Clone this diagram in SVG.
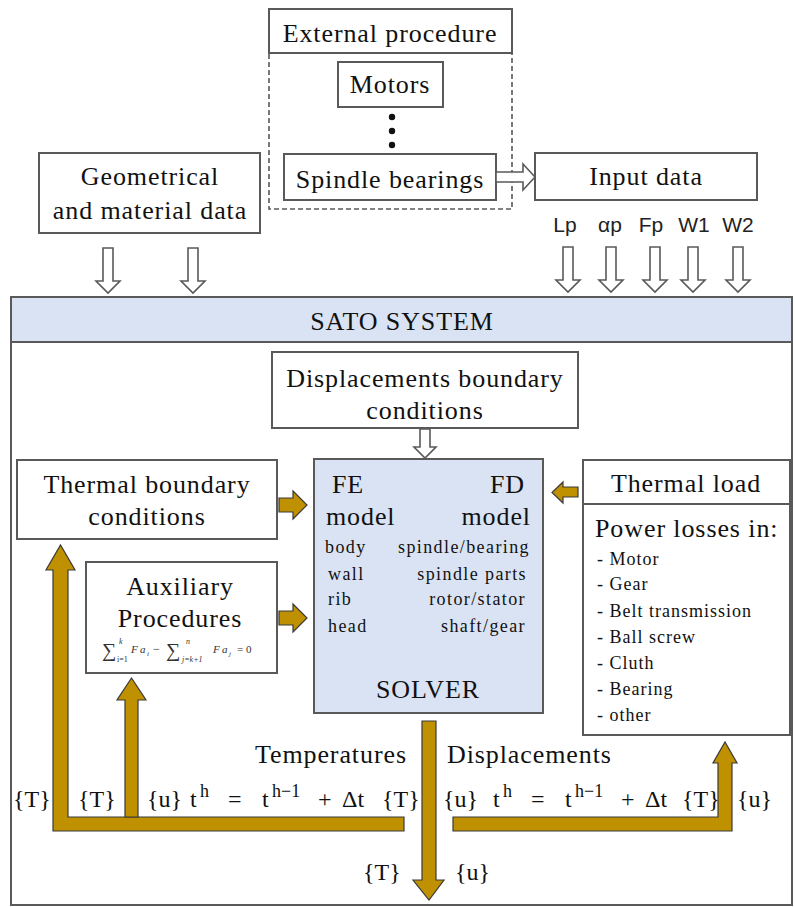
<svg xmlns="http://www.w3.org/2000/svg" width="795" height="907" viewBox="0 0 795 907" font-family="Liberation Serif, serif">
<style>
.box{fill:#fff;stroke:#595959;stroke-width:2}
.blue{fill:#dae3f3;stroke:#595959;stroke-width:2}
.t{font-family:'Liberation Serif',serif;font-size:26px;fill:#111;letter-spacing:0.9px}
.c{text-anchor:middle}
.e{text-anchor:end}
.s{font-family:'Liberation Sans',sans-serif;font-size:21px;fill:#222;text-anchor:middle}
.sm{font-family:'Liberation Serif',serif;font-size:18px;fill:#111;letter-spacing:1.4px}
.li{font-family:'Liberation Serif',serif;font-size:18px;fill:#111;letter-spacing:1px}
.m{font-family:'Liberation Serif',serif;font-size:24px;fill:#111}
.sup{font-size:18px}
.hol{fill:#fff;stroke:#595959;stroke-width:1.6;stroke-linejoin:miter}
.gold{fill:#bf9000;stroke:#3a3a3a;stroke-width:1.2}
.f{font-family:'Liberation Serif',serif;fill:#333}
</style>

<g id="sato">
<rect x="11" y="297" width="781" height="608" class="box"/>
<rect x="11" y="297" width="781" height="45" class="blue"/>
<text x="402" y="330" class="t c">SATO SYSTEM</text>
</g>

<g id="external">
<rect x="269" y="53" width="243" height="156" fill="none" stroke="#595959" stroke-width="1.6" stroke-dasharray="5 3"/>
<rect x="269" y="9" width="243" height="44" class="box"/>
<text x="390" y="42" class="t c">External procedure</text>
</g>

<g id="motors">
<rect x="338" y="62" width="105" height="45" class="box"/>
<text x="390" y="93" class="t c">Motors</text>
<circle cx="392" cy="117" r="3.2" fill="#111"/>
<circle cx="392" cy="131" r="3.2" fill="#111"/>
<circle cx="392" cy="145" r="3.2" fill="#111"/>
</g>

<g id="spindle">
<rect x="284" y="154" width="212" height="46" class="box"/>
<text x="390" y="188" class="t c">Spindle bearings</text>
</g>

<g id="geometrical">
<rect x="39" y="153" width="221" height="80" class="box"/>
<text x="150" y="185" class="t c">Geometrical</text>
<text x="150" y="219" class="t c">and material data</text>
</g>

<g id="input">
<rect x="535" y="153" width="222" height="47" class="box"/>
<text x="646" y="185" class="t c">Input data</text>
<text x="565" y="232" class="s">Lp</text>
<text x="610" y="232" class="s">αp</text>
<text x="651" y="232" class="s">Fp</text>
<text x="694" y="232" class="s">W1</text>
<text x="738" y="232" class="s">W2</text>
</g>

<g id="dispbc">
<rect x="272" y="352" width="306" height="76" class="box"/>
<text x="425" y="387" class="t c">Displacements boundary</text>
<text x="425" y="419" class="t c">conditions</text>
</g>

<g id="thermalbc">
<rect x="17" y="460" width="260" height="79" class="box"/>
<text x="147" y="493" class="t c">Thermal boundary</text>
<text x="147" y="525" class="t c">conditions</text>
</g>

<g id="auxiliary">
<rect x="86" y="562" width="191" height="111" class="box"/>
<text x="180" y="595" class="t c">Auxiliary</text>
<text x="180" y="627" class="t c">Procedures</text>
<text x="102" y="657" class="f" font-size="20">∑</text>
<text x="119" y="644" class="f" font-size="8" font-style="italic">k</text>
<text x="117" y="662" class="f" font-size="8">i=1</text>
<text x="131" y="653" class="f" font-size="11" font-style="italic">F</text>
<text x="140" y="653" class="f" font-size="11" font-style="italic">a</text>
<text x="147" y="656" class="f" font-size="7" font-style="italic">i</text>
<text x="153" y="653" class="f" font-size="12">−</text>
<text x="166" y="657" class="f" font-size="20">∑</text>
<text x="186" y="644" class="f" font-size="8" font-style="italic">n</text>
<text x="182" y="662" class="f" font-size="8" font-style="italic">j=k+1</text>
<text x="213" y="653" class="f" font-size="11" font-style="italic">F</text>
<text x="222" y="653" class="f" font-size="11" font-style="italic">a</text>
<text x="229" y="656" class="f" font-size="7" font-style="italic">j</text>
<text x="237" y="653" class="f" font-size="11">= 0</text>
</g>

<g id="solver">
<rect x="314" y="459" width="229" height="254" class="blue"/>
<text x="332" y="493" class="t" font-size="28">FE</text>
<text x="525" y="493" class="t e" font-size="28">FD</text>
<text x="326" y="525" class="t" font-size="28">model</text>
<text x="531" y="525" class="t e" font-size="28">model</text>
<text x="325" y="553" class="sm">body</text>
<text x="328" y="580" class="sm">wall</text>
<text x="328" y="605" class="sm">rib</text>
<text x="328" y="632" class="sm">head</text>
<text x="530" y="553" class="sm e">spindle/bearing</text>
<text x="527" y="580" class="sm e">spindle parts</text>
<text x="526" y="605" class="sm e">rotor/stator</text>
<text x="526" y="632" class="sm e">shaft/gear</text>
<text x="428" y="698" class="t c">SOLVER</text>
</g>

<g id="thermalload">
<rect x="583" y="460" width="207" height="275" class="box"/>
<line x1="583" y1="504" x2="790" y2="504" stroke="#595959" stroke-width="2"/>
<text x="686" y="492" class="t c">Thermal load</text>
<text x="595" y="537" class="t">Power losses in:</text>
<text x="597" y="565" class="li">- Motor</text>
<text x="597" y="590" class="li">- Gear</text>
<text x="597" y="617" class="li">- Belt transmission</text>
<text x="597" y="643" class="li">- Ball screw</text>
<text x="597" y="669" class="li">- Cluth</text>
<text x="597" y="695" class="li">- Bearing</text>
<text x="597" y="721" class="li">- other</text>
</g>

<g id="connectors">
<path class="hol" d="M103,248 H113 V281 H120 L108,293 L96,281 H103 Z"/>
<path class="hol" d="M188,248 H198 V281 H205 L193,293 L181,281 H188 Z"/>
<path class="hol" d="M563,247 H573 V280 H580 L568,292 L556,280 H563 Z"/>
<path class="hol" d="M606,247 H616 V280 H623 L611,292 L599,280 H606 Z"/>
<path class="hol" d="M650,247 H660 V280 H667 L655,292 L643,280 H650 Z"/>
<path class="hol" d="M688,247 H698 V280 H705 L693,292 L681,280 H688 Z"/>
<path class="hol" d="M733,247 H743 V280 H750 L738,292 L726,280 H733 Z"/>
<path class="hol" d="M496,172 H523 V164 L535,177 L523,190 V182 H496 Z"/>
<path class="hol" d="M420,429 H430 V447 H436 L425,458 L414,447 H420 Z"/>
<path class="gold" d="M279,498 H293 V491 L307,505 L293,519 V512 H279 Z"/>
<path class="gold" d="M279,611 H293 V604 L307,618 L293,632 V625 H279 Z"/>
<path class="gold" d="M578,487 H563 V482 L552,492.5 L563,503 V497 H578 Z"/>
<path class="gold" d="M404,817 H68 V570 H75 L60.5,545 L46,570 H53 V831 H404 Z"/>
<path class="gold" d="M125,817 V700 H117 L131.5,678 L146,700 H138 V817 Z"/>
<path class="gold" d="M453,817 H718 V763 H713 L725,742 L737,763 H732 V831 H453 Z"/>
<path class="gold" d="M422,721 H436 V880 H444 L429,900 L413,880 H422 Z"/>
</g>

<g id="labels">
<text x="255" y="763" class="t">Temperatures</text>
<text x="447" y="763" class="t">Displacements</text>
<text x="13" y="807" class="m">{T}</text>
<text x="78" y="807" class="m">{T}</text>
<text x="147" y="807" class="m">{u}</text>
<text x="190" y="807" class="m">t</text>
<text x="200" y="797" class="m sup">h</text>
<text x="228" y="807" class="m">=</text>
<text x="262" y="807" class="m">t</text>
<text x="272" y="797" class="m sup">h−1</text>
<text x="318" y="807" class="m">+</text>
<text x="342" y="807" class="m">Δt</text>
<text x="382" y="807" class="m">{T}</text>
<text x="443" y="807" class="m">{u}</text>
<text x="493" y="807" class="m">t</text>
<text x="503" y="797" class="m sup">h</text>
<text x="531" y="807" class="m">=</text>
<text x="565" y="807" class="m">t</text>
<text x="575" y="797" class="m sup">h−1</text>
<text x="621" y="807" class="m">+</text>
<text x="645" y="807" class="m">Δt</text>
<text x="682" y="807" class="m">{T}</text>
<text x="737" y="807" class="m">{u}</text>
<text x="363" y="880" class="m">{T}</text>
<text x="455" y="880" class="m">{u}</text>
</g>
</svg>
